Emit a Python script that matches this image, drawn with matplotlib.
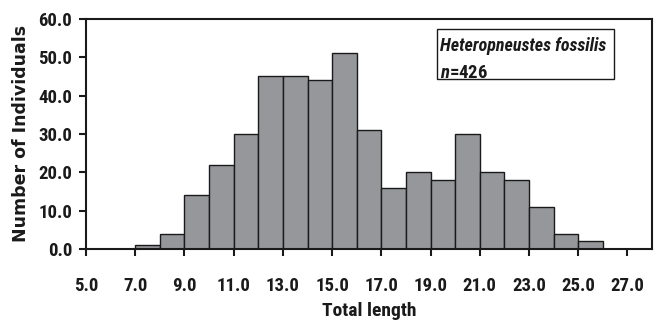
import numpy as np
import matplotlib
matplotlib.use("Agg")
import matplotlib.pyplot as plt
from matplotlib.patches import Rectangle

# Length classes (left edge of each 1 cm bin) and counts
bin_left = [7, 8, 9, 10, 11, 12, 13, 14, 15, 16, 17, 18, 19, 20, 21, 22, 23, 24, 25]
counts = [1, 4, 14, 22, 30, 45, 45, 44, 51, 31, 16, 20, 18, 30, 20, 18, 11, 4, 2]
xticks = [5, 7, 9, 11, 13, 15, 17, 19, 21, 23, 25, 27]
yticks = [0, 10, 20, 30, 40, 50, 60]
species = 'Heteropneustes fossilis'
n_total = 426

narrow = ['Roboto Condensed', 'DejaVu Sans']
plt.rcParams['mathtext.fontset'] = 'custom'
plt.rcParams['mathtext.it'] = 'Roboto Condensed:bold:italic'
plt.rcParams['mathtext.rm'] = 'Roboto Condensed:bold'

ink = '#1a1a1a'

fig = plt.figure(figsize=(6.59, 3.2), dpi=100)
ax = fig.add_axes([0.1305, 0.222, 0.859, 0.719])

ax.bar(bin_left, counts, width=1.0, align='edge', color='#96979b',
       edgecolor=ink, linewidth=1.0)

ax.set_xlim(5, 28)
ax.set_ylim(0, 60)
ax.set_xticks(xticks)
ax.set_xticklabels([f'{v:.1f}' for v in xticks], family=narrow,
                   fontweight='bold', fontsize=13.5)
ax.set_yticks(yticks)
ax.set_yticklabels([f'{v:.1f}' for v in yticks], family=narrow,
                   fontweight='bold', fontsize=13.5)
ax.tick_params(axis='x', length=5, width=1.5, pad=15, direction='out',
               colors=ink)
ax.tick_params(axis='y', length=5, width=1.5, pad=5, direction='out',
               colors=ink)

for s in ax.spines.values():
    s.set_linewidth(1.5)
    s.set_color(ink)

ax.set_xlabel('Total length', family=narrow, fontweight='bold',
              fontsize=14, labelpad=5, color=ink)
ax.set_ylabel('Number of Individuals', family='DejaVu Sans',
              fontweight='bold', fontsize=12.5, labelpad=6, color=ink)

# species label box
ax.add_patch(Rectangle((0.620, 0.739), 0.313, 0.218, transform=ax.transAxes,
                       facecolor='white', edgecolor=ink, linewidth=1.0,
                       zorder=3))
ax.text(0.625, 0.861, species, transform=ax.transAxes, family=narrow,
        fontweight='bold', fontstyle='italic', fontsize=13,
        va='baseline', ha='left', color=ink, zorder=4)
ax.text(0.625, 0.745, f'$n$=${n_total}$', transform=ax.transAxes,
        family=narrow, fontweight='bold', fontsize=13.5,
        va='baseline', ha='left', color=ink, zorder=4)

fig.savefig('out.png', dpi=100)
